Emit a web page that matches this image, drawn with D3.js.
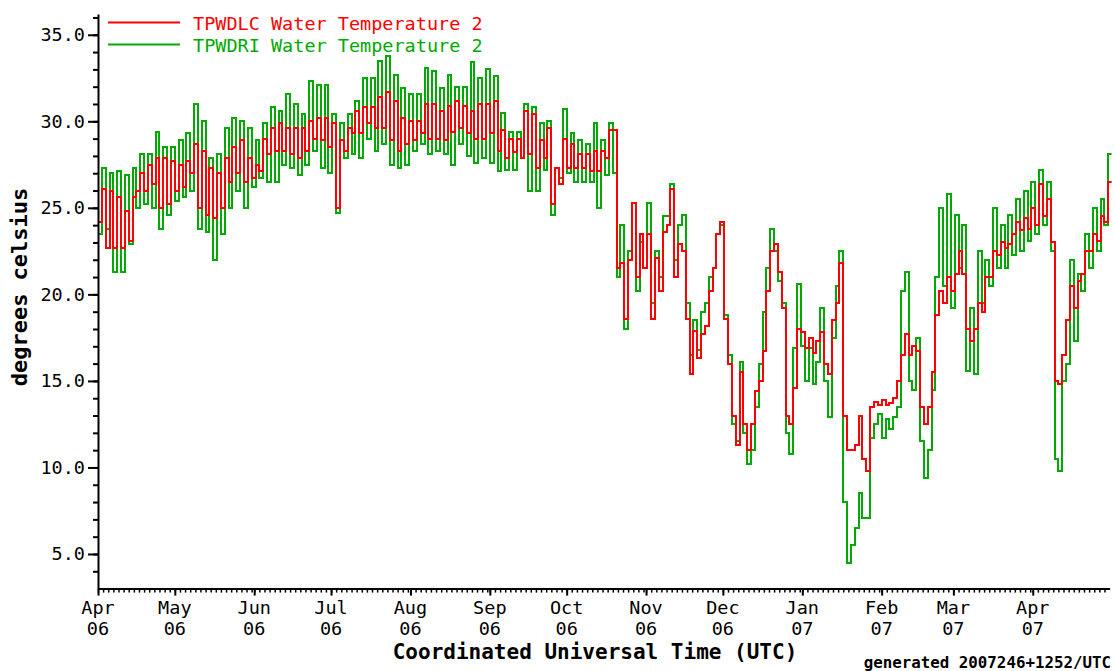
<!DOCTYPE html>
<html>
<head>
<meta charset="utf-8">
<script src="https://cdn.jsdelivr.net/npm/d3@7"></script>
<style>
  body { margin: 0; background: #fff; }
  svg { display: block; }
  text { font-family: "DejaVu Sans Mono", "Liberation Mono", monospace; }
</style>
</head>
<body>
<svg id="chart" width="1115" height="671"></svg>
<script>
// ---- data: one pair per 3-day bin, [first 1.5 days, second 1.5 days] ----
const startDate = new Date(Date.UTC(2006, 3, 1));
const endDate = new Date(Date.UTC(2007, 4, 1));
const binHours = 72;

const seriesNames = ["TPWDLC Water Temperature 2", "TPWDRI Water Temperature 2"];
const seriesColors = ["#ff0000", "#00aa00"];

// TPWDRI (green)
const tpwdri = [
  [23.5,27.3],[23.8,27.0],[21.3,27.1],[21.3,26.9],[22.9,27.3],[25.0,28.1],[25.2,28.1],[25.0,29.4],
  [23.8,28.5],[24.6,28.5],[25.4,28.9],[25.6,29.3],[26.0,31.0],[23.8,30.0],[23.6,27.9],[22.0,28.1],
  [23.5,29.6],[25.0,30.2],[26.0,30.0],[25.0,29.6],[26.2,28.9],[26.7,29.9],[26.5,30.8],[26.5,30.6],
  [27.5,31.6],[27.3,31.0],[26.9,30.4],[27.5,32.3],[28.3,32.1],[27.3,32.1],[27.0,30.4],[24.7,29.9],
  [27.9,30.4],[28.1,31.2],[27.9,32.5],[29.0,32.5],[28.3,33.5],[28.7,33.8],[27.5,32.7],[27.3,31.9],
  [27.5,31.6],[28.3,31.6],[28.7,33.1],[28.1,32.9],[28.3,31.9],[28.1,32.7],[27.5,32.0],[28.7,32.0],
  [28.0,33.4],[27.6,32.5],[27.9,33.0],[27.6,32.6],[27.1,30.5],[27.2,29.4],[27.2,29.4],[27.9,31.0],
  [26.0,30.8],[26.0,29.9],[27.2,30.0],[24.6,27.3],[26.7,30.7],[27.0,29.3],[26.5,28.9],[26.5,28.7],
  [26.5,29.9],[25.0,28.9],[26.9,29.9],[27.0,21.0],[24.0,18.0],[22.5,25.3],[20.2,23.0],[21.5,25.3],
  [19.5,22.5],[21.0,24.5],[24.5,26.4],[22.0,24.0],[24.6,19.5],[16.5,18.5],[16.8,19.0],[19.5,21.0],
  [21.5,23.5],[24.0,18.8],[16.5,12.5],[11.5,16.1],[12.0,10.2],[11.0,13.5],[16.0,19.0],[21.5,23.8],
  [22.5,20.8],[19.5,12.0],[10.8,16.9],[20.6,17.0],[15.0,16.9],[14.8,16.1],[19.2,15.0],[12.9,17.5],
  [20.5,22.5],[8.0,4.5],[5.5,6.5],[8.5,7.1],[7.1,11.7],[12.5,13.1],[11.7,12.8],[12.2,12.9],
  [13.5,20.2],[21.3,15.0],[14.5,17.5],[11.5,9.4],[11.0,14.5],[21.0,25.0],[20.5,25.8],[19.2,24.6],
  [21.5,24.0],[15.6,19.2],[15.4,22.5],[19.5,22.0],[20.5,25.0],[21.5,24.0],[21.5,24.6],[22.3,25.5],
  [22.5,26.0],[23.1,26.5],[23.5,27.2],[24.0,26.5],[22.5,10.5],[9.8,15.0],[16.0,22.0],[17.3,21.2],
  [20.2,23.5],[21.5,25.0],[22.5,25.5],[24.0,28.1]
];

// TPWDLC (red)
const tpwdlc = [
  [24.2,26.1],[22.7,26.0],[22.7,25.6],[22.7,24.8],[23.1,25.6],[26.0,27.0],[26.0,27.5],[26.4,27.9],
  [25.0,27.9],[25.2,27.7],[26.0,27.5],[26.2,27.7],[27.0,28.7],[25.0,28.3],[24.6,27.3],[24.4,27.0],
  [25.0,27.9],[26.5,28.5],[27.0,28.9],[26.5,27.9],[26.7,27.5],[27.1,29.0],[28.1,29.6],[28.3,29.9],
  [28.3,29.6],[28.1,29.6],[27.9,29.6],[28.3,30.0],[29.0,30.2],[28.9,30.2],[28.5,29.9],[25.0,28.9],
  [28.3,29.6],[29.3,30.6],[29.3,30.8],[29.9,30.8],[29.6,31.4],[29.6,31.7],[28.9,31.2],[28.3,30.2],
  [28.7,30.0],[28.9,30.0],[29.3,31.0],[29.0,31.0],[29.0,30.6],[28.9,30.9],[29.4,31.2],[29.6,30.9],
  [29.3,30.6],[29.0,31.0],[29.0,31.0],[29.3,31.2],[28.3,29.5],[27.9,29.0],[28.2,29.0],[27.9,30.6],
  [28.1,30.4],[27.3,28.9],[27.9,29.6],[25.2,27.3],[26.4,29.0],[27.3,28.7],[27.3,28.1],[27.3,28.1],
  [27.1,28.3],[27.1,28.3],[27.9,29.5],[29.5,21.5],[21.8,18.6],[22.0,25.3],[21.0,23.5],[21.5,23.5],
  [18.6,22.1],[20.2,23.6],[24.0,26.1],[21.0,22.9],[22.5,18.6],[15.4,17.9],[16.3,17.7],[18.2,20.2],
  [21.5,23.5],[24.2,18.6],[16.0,13.0],[11.3,15.5],[12.5,11.0],[12.5,14.4],[15.0,16.7],[20.2,22.5],
  [22.9,21.3],[19.2,13.0],[12.5,14.6],[18.0,17.8],[16.9,17.5],[16.6,17.3],[17.8,16.0],[15.4,18.5],
  [19.5,21.8],[13.0,11.0],[11.0,11.3],[13.0,10.5],[9.8,13.5],[13.8,13.6],[13.9,13.6],[13.7,14.0],
  [15.0,16.5],[17.7,16.5],[17.0,16.7],[13.5,12.5],[13.5,15.5],[18.8,20.2],[19.5,21.0],[20.2,21.2],
  [22.5,21.2],[18.0,17.3],[18.0,19.5],[19.0,21.0],[21.0,22.5],[22.3,23.0],[22.7,22.9],[23.5,24.2],
  [23.7,24.4],[23.8,25.0],[24.0,26.4],[24.5,25.5],[23.0,15.0],[14.8,16.5],[18.5,20.5],[19.2,20.8],
  [21.2,22.5],[22.5,23.5],[23.1,24.5],[24.2,26.5]
];

const yTickValues = [5, 10, 15, 20, 25, 30, 35];
const xTitle = "Coordinated Universal Time (UTC)";
const yTitle = "degrees celsius";
const footer = "generated 2007246+1252/UTC";

// ---- layout ----
const svg = d3.select("#chart");
const plotLeft = 98, plotRight = 1109.6, plotTop = 14, plotBottom = 588.6;

const x = d3.scaleUtc().domain([startDate, endDate]).range([plotLeft, plotRight]);
const y = d3.scaleLinear().domain([3, 36.2]).range([plotBottom, plotTop]);

svg.append("defs").append("clipPath").attr("id", "plot")
  .append("rect").attr("x", plotLeft).attr("y", plotTop)
  .attr("width", plotRight - plotLeft + 2).attr("height", plotBottom - plotTop);

function toPoints(pairs) {
  const pts = [];
  pairs.forEach(([a, b], i) => {
    pts.push([d3.utcHour.offset(startDate, i * binHours), a]);
    pts.push([d3.utcHour.offset(startDate, i * binHours + binHours / 2), b]);
  });
  pts.push([d3.utcHour.offset(startDate, pairs.length * binHours), pairs[pairs.length - 1][1]]);
  return pts;
}

const line = d3.line()
  .x(d => x(d[0]))
  .y(d => y(d[1]))
  .curve(d3.curveStepAfter);

const plot = svg.append("g").attr("clip-path", "url(#plot)");

// green first, red on top
[[tpwdri, seriesColors[1]], [tpwdlc, seriesColors[0]]].forEach(([data, color]) => {
  plot.append("path")
    .datum(toPoints(data))
    .attr("d", line)
    .attr("fill", "none")
    .attr("stroke", color)
    .attr("stroke-width", 2)
    .attr("shape-rendering", "crispEdges");
});

// y axis: minor then major
svg.append("g")
  .attr("transform", `translate(${plotLeft},0)`)
  .call(d3.axisLeft(y).tickValues(d3.range(4, 37)).tickSize(5).tickFormat("").tickSizeOuter(0))
  .call(g => g.select(".domain").remove())
  .call(g => g.selectAll("line").attr("stroke-width", 2));

svg.append("g")
  .attr("transform", `translate(${plotLeft},0)`)
  .call(d3.axisLeft(y).tickValues(yTickValues).tickSize(10).tickPadding(3).tickFormat(d3.format(".1f")).tickSizeOuter(0))
  .call(g => g.select(".domain").attr("stroke-width", 2))
  .call(g => g.selectAll("line").attr("stroke-width", 2))
  .call(g => g.selectAll("text").attr("font-size", 18.5).attr("font-family", "DejaVu Sans Mono").attr("fill", "#000"));

// x axis: minor every 2 days, month ticks longer
svg.append("g")
  .attr("transform", `translate(0,${plotBottom})`)
  .call(d3.axisBottom(x).tickValues(d3.utcDay.every(2).range(startDate, endDate)).tickSize(4).tickFormat("").tickSizeOuter(0))
  .call(g => g.select(".domain").remove())
  .call(g => g.selectAll("line").attr("stroke-width", 1.5));

const months = d3.utcMonth.range(startDate, endDate);
svg.append("g")
  .attr("transform", `translate(0,${plotBottom})`)
  .call(d3.axisBottom(x).tickValues(months).tickSize(7).tickFormat("").tickSizeOuter(0))
  .call(g => g.select(".domain").attr("stroke-width", 2))
  .call(g => g.selectAll("line").attr("stroke-width", 2));

const fmtMonth = d3.utcFormat("%b"), fmtYear = d3.utcFormat("%y");
const lbl = svg.append("g").attr("font-size", 18.5).attr("text-anchor", "middle");
lbl.selectAll(".m").data(months).join("text").attr("class", "m")
  .attr("x", d => x(d)).attr("y", 614).text(fmtMonth);
lbl.selectAll(".yr").data(months).join("text").attr("class", "yr")
  .attr("x", d => x(d)).attr("y", 635).text(fmtYear);

// titles
svg.append("text")
  .attr("x", 595).attr("y", 659)
  .attr("text-anchor", "middle").attr("font-size", 21).attr("font-weight", "bold")
  .text(xTitle);

svg.append("text")
  .attr("transform", "translate(27,287) rotate(-90)")
  .attr("text-anchor", "middle").attr("font-size", 22).attr("font-weight", "bold")
  .text(yTitle);

svg.append("text")
  .attr("x", 1111).attr("y", 668)
  .attr("text-anchor", "end").attr("font-size", 15.8).attr("font-weight", "bold")
  .text(footer);

// legend
const legend = svg.append("g");
seriesNames.forEach((name, i) => {
  const ly = 22.5 + i * 22;
  legend.append("line")
    .attr("x1", 108).attr("x2", 180).attr("y1", ly).attr("y2", ly)
    .attr("stroke", seriesColors[i]).attr("stroke-width", 2);
  legend.append("text")
    .attr("x", 193).attr("y", 29.5 + i * 22)
    .attr("font-size", 18.5).attr("fill", seriesColors[i])
    .text(name);
});
</script>
</body>
</html>
